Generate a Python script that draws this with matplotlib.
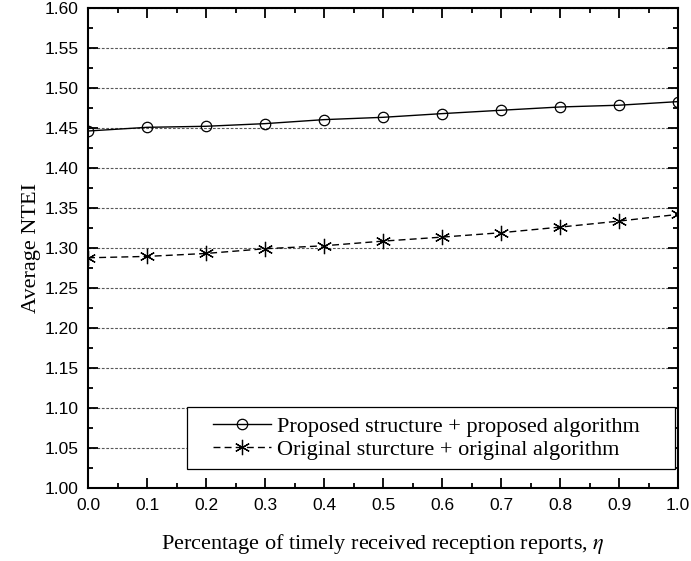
import numpy as np
import matplotlib.pyplot as plt
from matplotlib.patches import Rectangle
from matplotlib.ticker import MultipleLocator

plt.rcParams["mathtext.fontset"] = "stix"

eta = [0.0, 0.1, 0.2, 0.3, 0.4, 0.5, 0.6, 0.7, 0.8, 0.9, 1.0]
proposed = [1.4458, 1.4504, 1.4517, 1.4550, 1.4600, 1.4629, 1.4675, 1.4717, 1.4758, 1.4780, 1.4825]
original = [1.2875, 1.2892, 1.2929, 1.2988, 1.3025, 1.3083, 1.3133, 1.3188, 1.3258, 1.3333, 1.3417]

label_proposed = "Proposed structure + proposed algorithm"
label_original = "Original sturcture + original algorithm"

fig = plt.figure(figsize=(6.91, 5.61), dpi=100)
ax = fig.add_axes([0.1274, 0.1301, 0.8538, 0.8565])

ax.plot(eta, proposed, color="black", linewidth=1.0, linestyle="-",
        marker="o", markersize=7.5, markerfacecolor="none", markeredgecolor="black",
        markeredgewidth=0.9, label=label_proposed)
ax.plot(eta, original, color="black", linewidth=1.0, linestyle=(0, (5, 3)),
        marker=(6, 2, 0), markersize=11, markeredgecolor="black",
        markeredgewidth=0.9, label=label_original)

ax.set_xlim(0.0, 1.0)
ax.set_ylim(1.00, 1.60)
ax.xaxis.set_minor_locator(MultipleLocator(0.05))
ax.yaxis.set_minor_locator(MultipleLocator(0.025))
ax.set_xticks(np.round(np.arange(0, 1.01, 0.1), 1))
ax.set_xticklabels([f"{v:.1f}" for v in np.arange(0, 1.01, 0.1)])
ax.set_yticks(np.round(np.arange(1.0, 1.601, 0.05), 2))
ax.set_yticklabels([f"{v:.2f}" for v in np.arange(1.0, 1.601, 0.05)])

# dotted horizontal grid only
ax.yaxis.grid(True, which="major", linestyle=(0, (2.5, 1.5)), color="0.35", linewidth=0.8)
ax.xaxis.grid(False)

ax.tick_params(which="both", direction="in", top=True, right=True, width=1.3)
ax.tick_params(which="major", length=7, pad=7)
ax.tick_params(which="minor", length=3.5)
for lab in ax.get_xticklabels() + ax.get_yticklabels():
    lab.set_fontfamily("Liberation Sans")
    lab.set_fontsize(12.5)
for sp in ax.spines.values():
    sp.set_linewidth(1.5)

ax.set_xlabel(r"Percentage of timely received reception reports, $\eta$",
              fontfamily="Liberation Serif", fontsize=16, labelpad=14)
ax.set_ylabel("Average NTEI", fontfamily="Liberation Serif", fontsize=16)
ax.yaxis.set_label_coords(-0.08, 0.5)

# legend box with wider padding on the right than on the left
box = Rectangle((0.1678, 0.0396), 0.9949 - 0.1678, 0.1688 - 0.0396,
                transform=ax.transAxes, facecolor="white", edgecolor="black",
                linewidth=0.9, zorder=4)
ax.add_patch(box)
leg = ax.legend(loc="center left", bbox_to_anchor=(0.2119, 0.1042),
                prop={"family": "Liberation Serif", "size": 16},
                frameon=False, handlelength=2.6, handletextpad=0.3,
                borderpad=0.0, labelspacing=0.13, borderaxespad=0.0)
leg.set_zorder(5)

fig.savefig("out.png", dpi=100)
